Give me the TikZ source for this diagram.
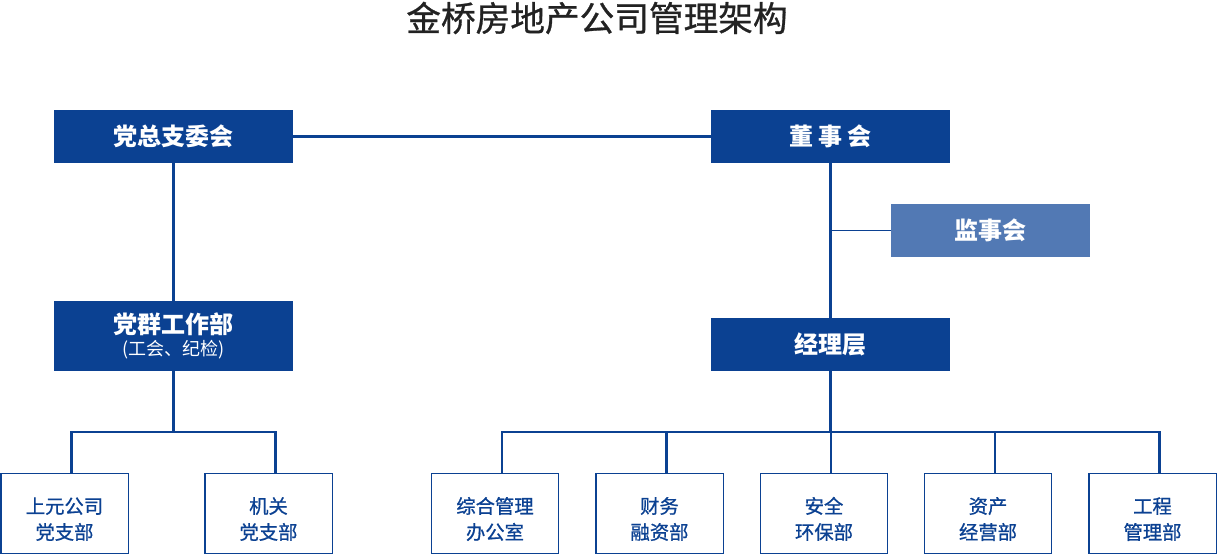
\documentclass[tikz,border=0pt]{standalone}
\usepackage{fontspec}
\setmainfont{Noto Sans CJK SC}
\newfontfamily\medfont{Noto Sans CJK SC}[FakeBold=0.8]
\usepackage{xcolor}
\usepackage{tikz}
\definecolor{deepblue}{HTML}{0B4192}
\definecolor{paleblue}{HTML}{5279B4}
\definecolor{titlegray}{HTML}{222222}
\tikzset{
  headbox/.style={fill=deepblue, text=white, inner sep=0pt, align=center,
    minimum width=179.25pt, minimum height=39.75pt,
    font=\fontsize{18}{21}\selectfont\bfseries},
  unitbox/.style={draw=deepblue, line width=1.1pt, fill=white, text=deepblue,
    inner sep=0pt, align=center, minimum width=95.6pt, minimum height=59.6pt,
    text height=38.8pt, text depth=0pt,
    font=\medfont\fontsize{14.5}{19.5}\selectfont},
  link/.style={draw=deepblue, line width=1.6pt}
}

\begin{document}
\begin{tikzpicture}[x=0.75pt,y=-0.75pt]
\useasboundingbox (0,0) rectangle (1217,555);
\node[text=titlegray, font=\medfont\fontsize{26}{30}\selectfont] (title) at (597,18) {金桥房地产公司管理架构};

\node[headbox] (party) at (173.5,136.5) {党总支委会};
\node[headbox] (board) at (830.5,136.5) {董 事 会};
\node[headbox, fill=paleblue, minimum width=149.25pt] (super) at (990.5,230.5) {监事会};
\node[headbox, minimum height=52.5pt] (mass) at (173.5,336) {党群工作部\\[-4pt]{\fontsize{13.5}{15}\selectfont\mdseries (工会、纪检)}};
\node[headbox] (mgr) at (830.5,344.5) {经理层};

\node[unitbox] (unitA) at (64.5,513.5) {上元公司\\党支部};
\node[unitbox] (unitB) at (268.5,513.5) {机关\\党支部};
\node[unitbox] (deptA) at (495,513.5) {综合管理\\办公室};
\node[unitbox] (deptB) at (659.5,513.5) {财务\\融资部};
\node[unitbox] (deptC) at (824,513.5) {安全\\环保部};
\node[unitbox] (deptD) at (988,513.5) {资产\\经营部};
\node[unitbox] (deptE) at (1152.5,513.5) {工程\\管理部};

\draw[link] (party) -- (board);
\draw[link] (party) -- (mass);
\draw[link] (board) -- (mgr);
\coordinate (tap) at (board.south |- super.west);
\draw[link, line width=1.2pt] (super) -- (tap);

\draw[link] (mass.south) -- ++(0,61) coordinate (lbar);
\draw[link] ([xshift=5.25pt]unitA.north) |- (lbar) -| ([xshift=5.25pt]unitB.north);

\draw[link] (mgr.south) -- ++(0,61) coordinate (rbar);
\draw[link] ([xshift=5.25pt]deptA.north) |- (rbar) -| ([xshift=5.25pt]deptE.north);
\foreach \d in {deptB,deptC,deptD}
  \draw[link] ([xshift=5.25pt]\d.north) -- ([xshift=5.25pt]\d.north |- rbar);
\end{tikzpicture}
\end{document}
